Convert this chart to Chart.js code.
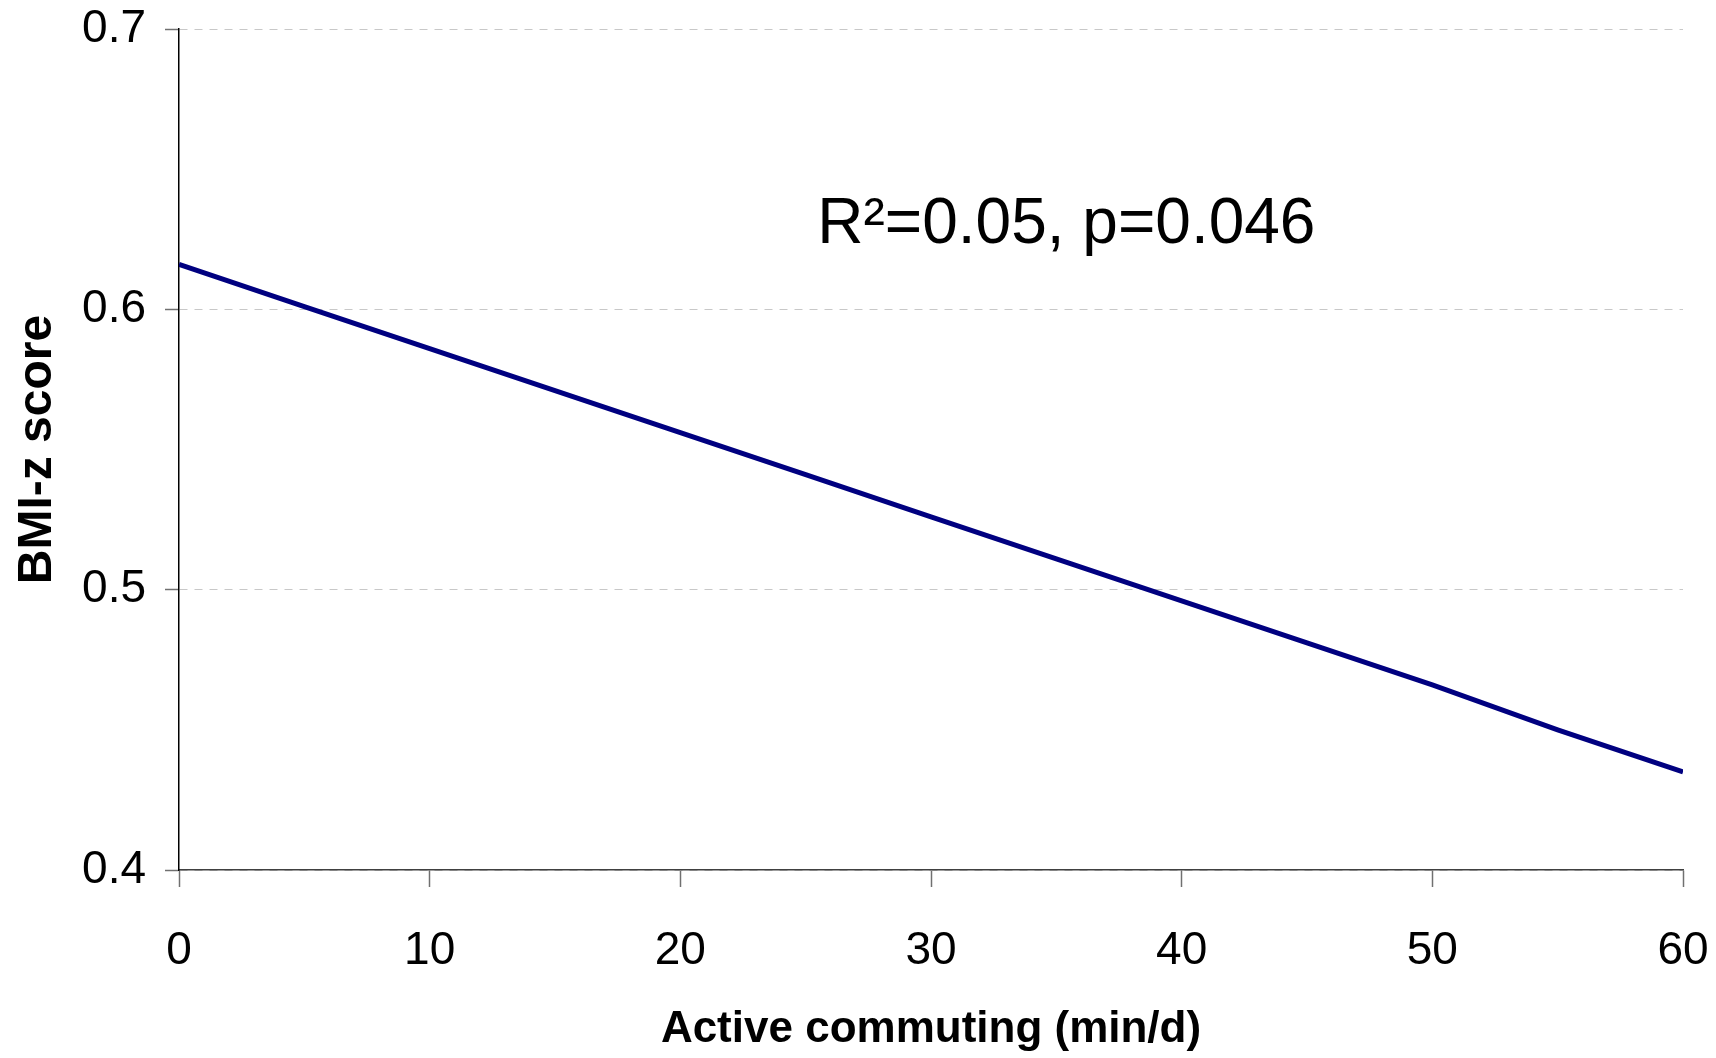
<!DOCTYPE html>
<html lang="en">
<head>
    <meta charset="UTF-8">
    <title>BMI-z score vs active commuting</title>
    <script src="https://cdn.jsdelivr.net/npm/chart.js"></script>
    <style>
        html, body {
            margin: 0;
            padding: 0;
            background: #ffffff;
        }
        #chartBox {
            width: 1716px;
            height: 1058px;
        }
    </style>
</head>
<body>
    <div id="chartBox">
        <canvas id="myChart" width="1716" height="1058"></canvas>
    </div>
    <script>
        // values
        const commuteMinutes = [0, 5, 10, 15, 20, 25, 30, 35, 40, 45, 50, 55, 60];
        const bmiZ = [0.616, 0.601, 0.586, 0.571, 0.556, 0.541, 0.526, 0.511, 0.496, 0.481, 0.466, 0.450, 0.435];
        const xTicks = [0, 10, 20, 30, 40, 50, 60];
        const yTicks = [0.4, 0.5, 0.6, 0.7];
        const statsText = 'R\u00B2=0.05, p=0.046';
        const statsAt = { x: 35.4, y: 0.6237 };

        const fontFamily = '"Liberation Sans", Arial, sans-serif';

        // draws the R2 / p-value note inside the plot
        const statsNote = {
            id: 'statsNote',
            afterDatasetsDraw(chart) {
                const ctx = chart.ctx;
                const px = chart.scales.x.getPixelForValue(statsAt.x);
                const py = chart.scales.y.getPixelForValue(statsAt.y);
                ctx.save();
                ctx.font = '64px ' + fontFamily;
                ctx.fillStyle = '#000000';
                ctx.textAlign = 'center';
                ctx.textBaseline = 'alphabetic';
                ctx.fillText(statsText, px, py);
                ctx.restore();
            }
        };

        const ctx = document.getElementById('myChart').getContext('2d');
        const myChart = new Chart(ctx, {
            type: 'line',
            data: {
                datasets: [{
                    label: 'BMI-z score',
                    data: commuteMinutes.map((m, i) => ({ x: m, y: bmiZ[i] })),
                    borderColor: '#000080',
                    borderWidth: 5,
                    pointRadius: 0,
                    tension: 0,
                    fill: false
                }]
            },
            options: {
                responsive: false,
                animation: false,
                layout: {
                    padding: { top: 29, right: 33, left: 0, bottom: 0 }
                },
                plugins: {
                    legend: { display: false },
                    tooltip: { enabled: false }
                },
                scales: {
                    x: {
                        type: 'linear',
                        min: 0,
                        max: 60,
                        afterBuildTicks: scale => {
                            scale.ticks = xTicks.map(v => ({ value: v }));
                        },
                        afterFit: scale => {
                            scale.height = 188;
                            // let the layout padding alone decide the side margins
                            scale.paddingLeft = 0;
                            scale.paddingRight = 0;
                        },
                        ticks: {
                            color: '#000000',
                            padding: 37,
                            maxRotation: 0,
                            font: { family: fontFamily, size: 46 },
                            callback: v => String(v)
                        },
                        grid: {
                            drawOnChartArea: false,
                            drawTicks: true,
                            tickLength: 17,
                            tickColor: '#707070',
                            tickWidth: 1.5
                        },
                        border: {
                            color: '#404040',
                            width: 1.5
                        },
                        title: {
                            display: true,
                            text: 'Active commuting (min/d)',
                            color: '#000000',
                            font: { family: fontFamily, size: 44, weight: 'bold', lineHeight: 1 },
                            padding: { top: 0, bottom: 6 }
                        }
                    },
                    y: {
                        type: 'linear',
                        min: 0.4,
                        max: 0.7,
                        afterBuildTicks: scale => {
                            scale.ticks = yTicks.map(v => ({ value: v }));
                        },
                        afterFit: scale => {
                            scale.width = 179;
                            scale.paddingTop = 0;
                            scale.paddingBottom = 0;
                        },
                        ticks: {
                            color: '#000000',
                            padding: 19,
                            font: { family: fontFamily, size: 46 },
                            callback: v => Number(v).toFixed(1)
                        },
                        grid: {
                            color: '#c8c8c8',
                            lineWidth: 1,
                            drawTicks: true,
                            tickLength: 14,
                            tickColor: '#707070',
                            tickWidth: 1.5,
                            tickBorderDash: []
                        },
                        border: {
                            color: '#000000',
                            width: 1.5,
                            dash: [8, 7]
                        },
                        title: {
                            display: true,
                            text: 'BMI-z score',
                            color: '#000000',
                            font: { family: fontFamily, size: 48, weight: 'bold', lineHeight: 1 },
                            padding: { top: 14, bottom: 0 }
                        }
                    }
                }
            },
            plugins: [statsNote]
        });
    </script>
</body>
</html>
